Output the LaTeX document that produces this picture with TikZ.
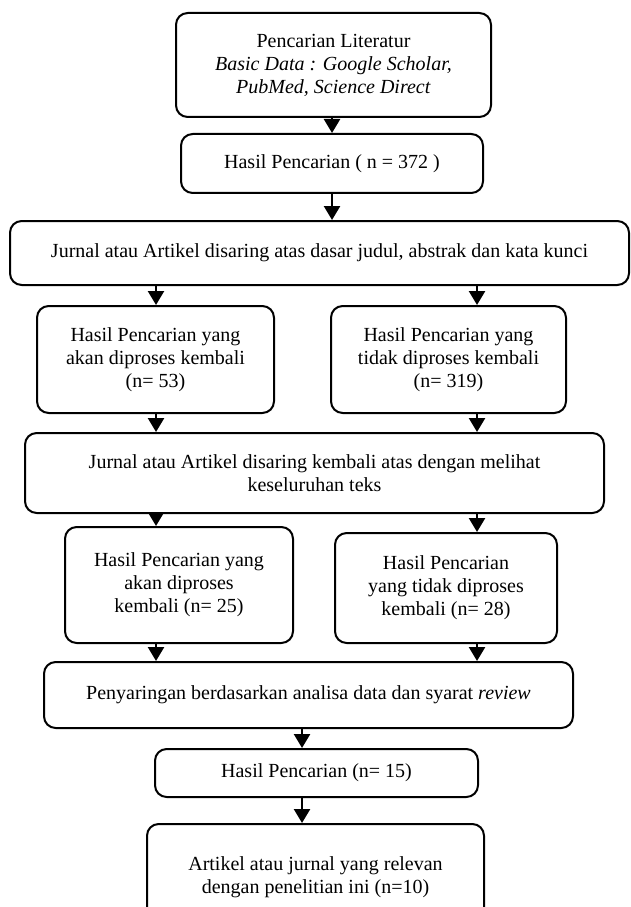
\documentclass[tikz,border=0pt]{standalone}
\usepackage{fontspec}
\setmainfont{Liberation Serif}
\usetikzlibrary{arrows.meta}

\tikzset{
    box/.style={draw, line width=1.2pt, rounded corners=7pt, align=center, inner sep=2pt},
    arr/.style={line width=1.5pt, -{Triangle[length=8.4pt, width=9.6pt]}}
}

\begin{document}
\begin{tikzpicture}[x=0.6pt, y=-0.6pt,
        font=\fontsize{12}{13.8}\selectfont]

        \useasboundingbox (0,0) rectangle (630,907);

        % Columns of the arrows
        \coordinate (colL) at (156,0);
        \coordinate (colR) at (477,0);
        \coordinate (colM) at (302,0);

        % Search
        \node[box, minimum width=189pt, minimum height=62.4pt] (search) at (333.5,65)
            {Pencarian Literatur\\ \textit{Basic Data : Google Scholar,}\\ \textit{PubMed, Science Direct}};
        \node[box, minimum width=181.2pt, minimum height=35.4pt] (found) at (332,163.5)
            {Hasil Pencarian ( n = 372 )};

        % First screening
        \node[box, minimum width=371.4pt, minimum height=38.4pt] (screenA) at (319.5,253)
            {Jurnal atau Artikel disaring atas dasar judul, abstrak dan kata kunci};
        \node[box, minimum width=142.2pt, minimum height=64.2pt] (keepA) at (155.5,359.5)
            {Hasil Pencarian yang\\ akan diproses kembali\\ (n= 53)};
        \node[box, minimum width=141pt, minimum height=64.2pt] (dropA) at (448.5,359.5)
            {Hasil Pencarian yang\\ tidak diproses kembali\\ (n= 319)};

        % Second screening
        \node[box, minimum width=347.4pt, minimum height=48pt] (screenB) at (314.5,473)
            {Jurnal atau Artikel disaring kembali atas dengan melihat\\ keseluruhan teks};
        \node[box, minimum width=136.8pt, minimum height=69.6pt] (keepB) at (179,585)
            {Hasil Pencarian yang\\ akan diproses\\ kembali (n= 25)};
        \node[box, minimum width=133.2pt, minimum height=66pt] (dropB) at (446,588)
            {Hasil Pencarian\\ yang tidak diproses\\ kembali (n= 28)};

        % Final selection (cut at the bottom of the page)
        \node[box, minimum width=317.4pt, minimum height=39.6pt] (review) at (308.5,695)
            {Penyaringan berdasarkan analisa data dan syarat \textit{review}};
        \node[box, minimum width=193.8pt, minimum height=28.8pt] (result) at (316.5,773)
            {Hasil Pencarian (n= 15)};
        \node[box, minimum width=202.2pt, minimum height=63.6pt] (final) at (315.5,877)
            {Artikel atau jurnal yang relevan\\ dengan penelitian ini (n=10)};

        % Arrows
        \draw[arr] (search.south -| found) -- (found.north);
        \draw[arr] (found.south) -- (screenA.north -| found);
        \draw[arr] (screenA.south -| colL) -- (keepA.north -| colL);
        \draw[arr] (screenA.south -| colR) -- (dropA.north -| colR);
        \draw[arr] (keepA.south -| colL) -- (screenB.north -| colL);
        \draw[arr] (dropA.south -| colR) -- (screenB.north -| colR);
        \draw[arr] (screenB.south -| colL) -- (keepB.north -| colL);
        \draw[arr] (screenB.south -| colR) -- (dropB.north -| colR);
        \draw[arr] (keepB.south -| colL) -- (review.north -| colL);
        \draw[arr] (dropB.south -| colR) -- (review.north -| colR);
        \draw[arr] (review.south -| colM) -- (result.north -| colM);
        \draw[arr] (result.south -| colM) -- (final.north -| colM);
    \end{tikzpicture}
\end{document}
